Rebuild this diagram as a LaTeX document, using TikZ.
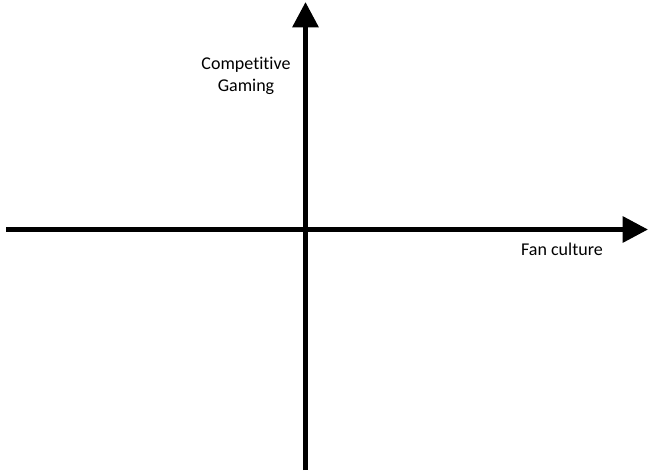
\documentclass[tikz,border=0pt]{standalone}
\usepackage{fontspec}
\setmainfont[Ligatures=NoCommon]{Carlito}
\usetikzlibrary{arrows.meta}

\begin{document}
\begin{tikzpicture}[
  x=0.75pt, y=-0.75pt,
  axis/.style={-{Triangle[length=19pt, width=19pt]}, line width=3.8pt, black},
  lbl/.style={font=\fontsize{13.5}{17}\selectfont, align=center, inner sep=0pt}
]
\useasboundingbox (0,0) rectangle (648,471);

% === Axis end points ===
\coordinate (xstart) at (6,229.5);
\coordinate (xend)   at (648,229.5);
\coordinate (ybot)   at (305.5,470);
\coordinate (ytop)   at (305.5,2);

% === Labels ===
\node[lbl] (gaming) at (246,76) {Competitive\\Gaming};
\node[lbl] (fan) at (562,249) {Fan culture};

% === Axes ===
\draw[axis] (xstart) -- (xend);
\draw[axis] (ybot) -- (ytop);

\end{tikzpicture}
\end{document}
